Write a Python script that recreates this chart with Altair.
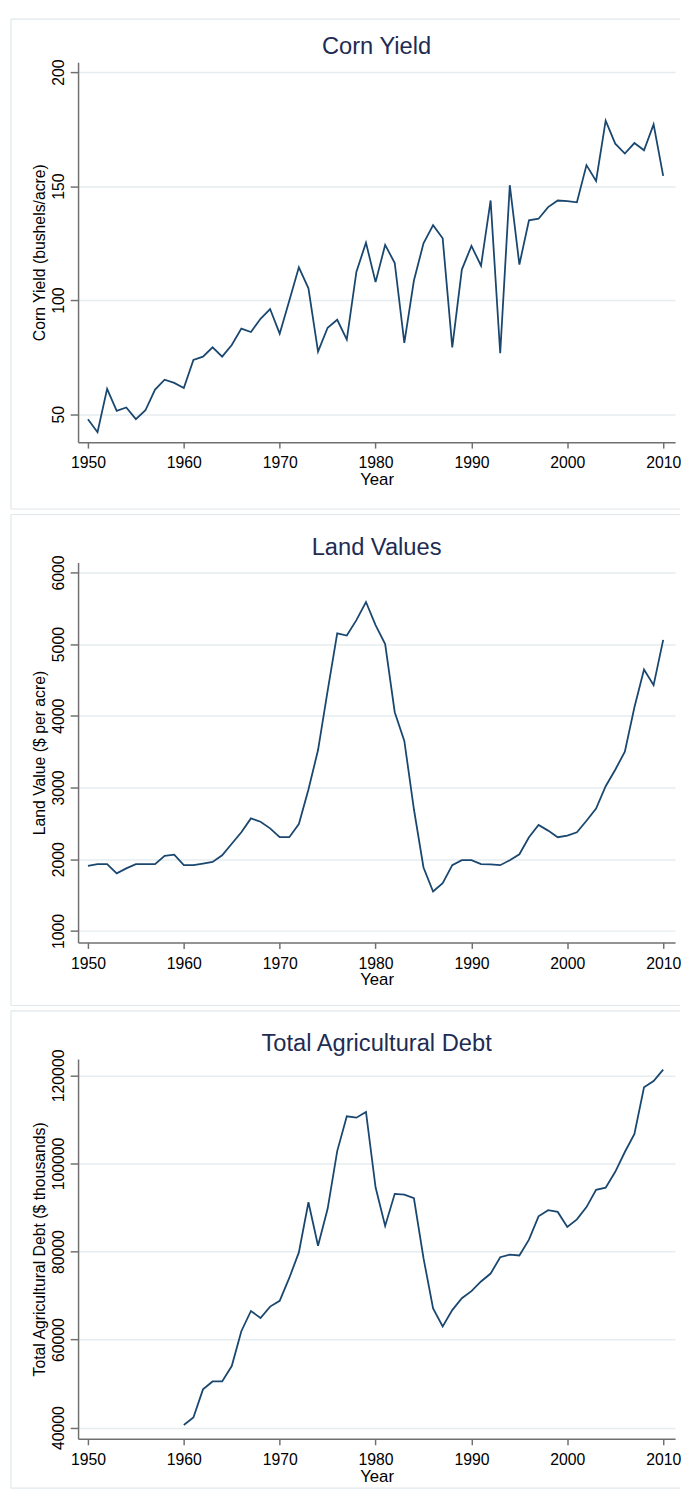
import altair as alt
import pandas as pd

# ---------------- data ----------------
corn_years = list(range(1950, 2011))
corn_yield = [47.8, 42.1, 61.1, 51.4, 52.9, 47.8, 51.7, 60.8, 65.1, 63.7,
              61.5, 73.8, 75.2, 79.3, 75.2, 80.3, 87.5, 86.0, 91.8, 96.1,
              85.3, 99.7, 114.4, 105.2, 77.4, 87.9, 91.4, 82.7, 112.4, 125.2,
              107.9, 124.2, 116.3, 81.3, 108.6, 124.9, 132.9, 127.1, 79.3, 113.4,
              123.8, 115.1, 143.7, 76.7, 150.4, 115.6, 135.0, 135.7, 140.8, 143.7,
              143.4, 142.9, 159.2, 152.3, 178.7, 168.6, 164.3, 168.9, 165.7, 177.1,
              154.5]

land_years = list(range(1950, 2011))
land_value = [1908, 1931, 1931, 1803, 1872, 1931, 1931, 1931, 2046, 2064,
              1917, 1917, 1940, 1963, 2055, 2216, 2376, 2569, 2523, 2431,
              2307, 2307, 2491, 2972, 3523, 4349, 5151, 5119, 5335, 5587,
              5266, 5000, 4050, 3651, 2697, 1885, 1550, 1665, 1917, 1986,
              1986, 1931, 1927, 1917, 1986, 2069, 2307, 2477, 2399, 2307,
              2330, 2376, 2537, 2706, 3018, 3248, 3500, 4119, 4647, 4427,
              5060]

debt_years = list(range(1960, 2011))
ag_debt = [40600, 42300, 48700, 50500, 50500, 54000, 61900, 66500, 64900, 67500,
           68800, 74000, 79800, 91200, 81300, 89700, 102800, 110700, 110400, 111700,
           94600, 85800, 93100, 92900, 92100, 78500, 67100, 63000, 66700, 69400,
           71000, 73200, 75000, 78700, 79300, 79100, 82700, 88000, 89400, 89000,
           85600, 87300, 90100, 94000, 94500, 98100, 102600, 106700, 117300, 118700,
           121300]

year_ticks = [1950, 1960, 1970, 1980, 1990, 2000, 2010]
corn_ticks = [50, 100, 150, 200]
land_ticks = [1000, 2000, 3000, 4000, 5000, 6000]
debt_ticks = [40000, 60000, 80000, 100000, 120000]

# ---------------- styling ----------------
W, H = 605, 385
X_DOMAIN = [1948.97, 2011.24]
LINE = "#1a476f"
GRID = "#e6edf0"
AXIS = "#707070"
FRAME = "#dfe7eb"
TITLE_COLOR = "#1e2b52"
FONT = "Liberation Sans"


def panel(years, values, ytitle, title, ydomain, yticks, top_off, bot_off):
    df = pd.DataFrame({"Year": years, "Value": values})
    x = alt.X("Year:Q",
              scale=alt.Scale(domain=X_DOMAIN, nice=False, zero=False),
              axis=alt.Axis(values=year_ticks, format="d", title="Year", grid=False,
                            tickSize=6, labelPadding=7, titlePadding=1,
                            labelFontSize=16, titleFontSize=17))
    y = alt.Y("Value:Q",
              scale=alt.Scale(domain=ydomain, nice=False, zero=False),
              axis=alt.Axis(values=yticks, format="d", title=ytitle, grid=True,
                            tickSize=8, labelAngle=270, labelAlign="center",
                            labelBaseline="alphabetic", labelPadding=7,
                            titlePadding=3, labelFontSize=16, titleFontSize=16))
    line = alt.Chart(df).mark_line(color=LINE, strokeWidth=1.8).encode(x=x, y=y)

    one = pd.DataFrame({"k": [0]})
    top = alt.Chart(one).mark_rule(color=FRAME, strokeWidth=1.2).encode(
        x=alt.value(-68), x2=alt.value(W + 5), y=alt.value(-top_off))
    bottom = alt.Chart(one).mark_rule(color=FRAME, strokeWidth=1.2).encode(
        x=alt.value(-68), x2=alt.value(W + 5), y=alt.value(H + bot_off))
    left = alt.Chart(one).mark_rule(color=FRAME, strokeWidth=1.2).encode(
        x=alt.value(-68), y=alt.value(-top_off), y2=alt.value(H + bot_off))
    head = alt.Chart(one).mark_text(
        text=title, fontSize=24, font=FONT, color=TITLE_COLOR,
        align="center", baseline="alphabetic").encode(
        x=alt.value(W / 2), y=alt.value(-8))

    return alt.layer(line, top, bottom, left, head).properties(width=W, height=H)


p1 = panel(corn_years, corn_yield, "Corn Yield (bushels/acre)", "Corn Yield",
           [37.71, 204.33], corn_ticks, 43.7, 67.7)
p2 = panel(land_years, land_value, "Land Value ($ per acre)", "Land Values",
           [839, 6137.6], land_ticks, 48.7, 63.9)
p3 = panel(debt_years, ag_debt, "Total Agricultural Debt ($ thousands)",
           "Total Agricultural Debt", [37467, 123742], debt_ticks, 48.7, 50)

chart = alt.vconcat(p1, p2, p3, spacing=3).properties(
    padding={"left": 2, "top": 0, "right": 0, "bottom": 0},
    background="white"
).configure_view(stroke=None).configure_axis(
    labelFont=FONT, titleFont=FONT, labelColor="#000000", titleColor="#000000",
    titleFontWeight="normal", domainColor=AXIS, domainWidth=1.5,
    tickColor=AXIS, tickWidth=1.5, gridColor=GRID, gridWidth=1.5
)

chart.save("out.html", embed_options={"renderer": "svg", "actions": False})
